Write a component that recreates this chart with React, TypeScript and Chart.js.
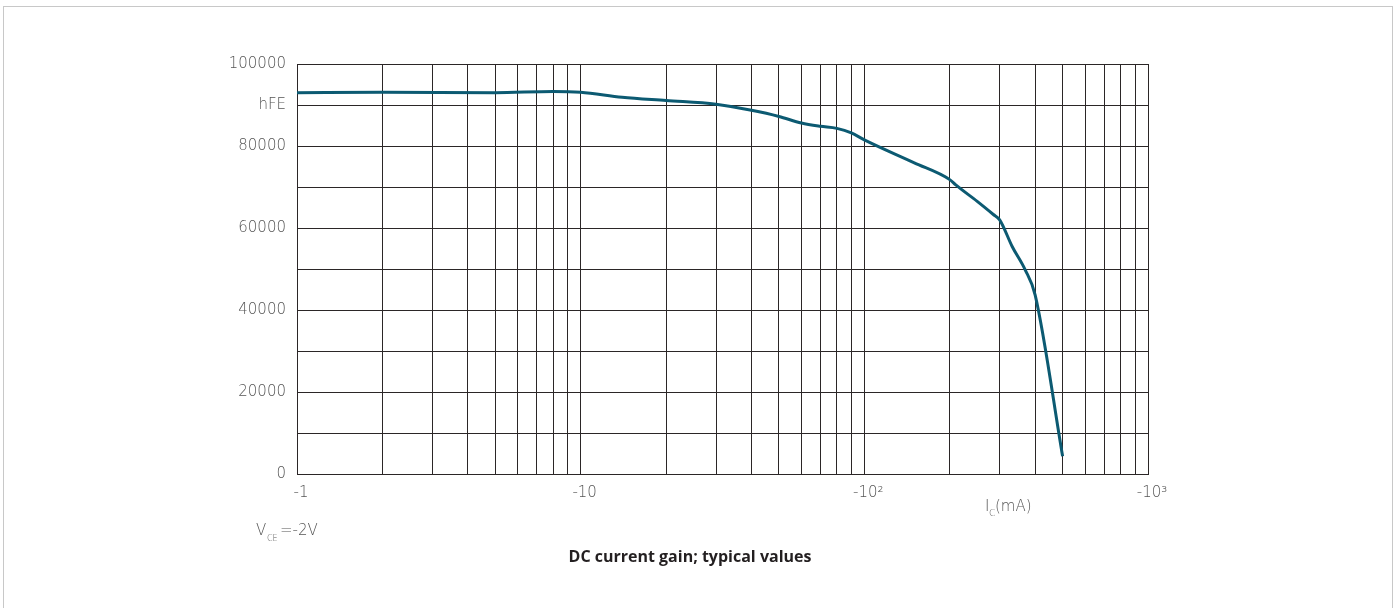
import React, { useEffect, useRef } from "react";
import { Chart, registerables } from "chart.js";

Chart.register(...registerables);

const currentMA = [1, 2, 5, 8, 10, 14, 20, 30, 40, 50, 60, 70, 80, 90, 100, 150, 200, 210, 250, 285, 300, 332, 369, 400, 500];
const hFEValues = [93000, 93100, 93000, 93300, 93100, 91900, 91100, 90200, 88700, 87200, 85600, 84800, 84300, 83200, 81500, 75900, 71800, 70500, 66500, 63300, 62000, 55500, 49800, 43700, 4300];
const xTickValues = [1, 2, 3, 4, 5, 6, 7, 8, 9, 10, 20, 30, 40, 50, 60, 70, 80, 90, 100, 200, 300, 400, 500, 600, 700, 800, 900, 1000];
const xTickLabels: Record<number, string> = { 1: "-1", 10: "-10", 100: "-10²", 1000: "-10³" };
const yTickLabels: Record<number, string> = { 0: "0", 20000: "20000", 40000: "40000", 60000: "60000", 80000: "80000", 90000: "hFE", 100000: "100000" };

const FONT = "'DejaVu Sans', 'Open Sans', sans-serif";
const TITLE_FONT = "'Open Sans', 'Noto Sans', sans-serif";
const GRID = "#2b2627";
const TEXT = "#555555";

const annotations = {
  id: "annotations",
  afterDraw(chart: any) {
    const ctx = chart.ctx;
    ctx.save();
    ctx.fillStyle = TEXT;
    ctx.textBaseline = "alphabetic";
    ctx.textAlign = "left";
    // I_C(mA)
    ctx.font = `200 15px ${FONT}`;
    ctx.fillText("I", 985, 511);
    ctx.font = `200 9px ${FONT}`;
    ctx.fillText("C", 989, 516);
    ctx.font = `200 15px ${FONT}`;
    ctx.fillText("(mA)", 995, 511);
    // V_CE=-2V
    ctx.font = `200 15px ${FONT}`;
    ctx.fillText("V", 256, 535);
    ctx.font = `200 8px ${FONT}`;
    ctx.fillText("CE", 267, 541);
    ctx.font = `200 15px ${FONT}`;
    ctx.fillText("=-2V", 280, 535);
    // title
    ctx.fillStyle = "#231f20";
    ctx.font = `bold 16px ${TITLE_FONT}`;
    ctx.textAlign = "center";
    ctx.fillText("DC current gain; typical values", 690, 562);
    ctx.restore();
  },
};

export default function App() {
  const ref = useRef<HTMLCanvasElement | null>(null);
  useEffect(() => {
    if (!ref.current) return;
    const chart = new Chart(ref.current, {
      type: "line",
      data: {
        datasets: [
          {
            data: currentMA.map((x, i) => ({ x, y: hFEValues[i] })),
            borderColor: "#0c5a72",
            borderWidth: 3,
            pointRadius: 0,
            cubicInterpolationMode: "monotone",
            fill: false,
          },
        ],
      },
      options: {
        animation: false,
        responsive: false,
        maintainAspectRatio: false,
        layout: { padding: { left: 0, top: 64, right: 252, bottom: 0 } },
        plugins: { legend: { display: false }, tooltip: { enabled: false }, title: { display: false } },
        scales: {
          x: {
            type: "logarithmic",
            min: 1,
            max: 1000,
            afterBuildTicks: (scale: any) => {
              scale.ticks = xTickValues.map((v) => ({ value: v }));
            },
            afterFit: (scale: any) => {
              scale.height = 134;
            },
            grid: { color: GRID, lineWidth: 1, drawTicks: false },
            border: { color: GRID, width: 1 },
            ticks: {
              autoSkip: false,
              maxRotation: 0,
              padding: 10,
              labelOffset: 4,
              color: TEXT,
              font: { family: FONT, size: 15, weight: "200" },
              callback: (v: any) => xTickLabels[Number(v)] ?? "",
            },
          },
          y: {
            type: "linear",
            min: 0,
            max: 100000,
            afterFit: (scale: any) => {
              scale.width = 297;
            },
            grid: { color: GRID, lineWidth: 1, drawTicks: false },
            border: { color: GRID, width: 1 },
            ticks: {
              stepSize: 10000,
              autoSkip: false,
              padding: 11,
              color: TEXT,
              font: { family: FONT, size: 15, weight: "200" },
              callback: (v: any) => yTickLabels[Number(v)] ?? "",
            },
          },
        },
      },
      plugins: [annotations],
    } as any);
    return () => chart.destroy();
  }, []);

  return (
    <div style={{ position: "fixed", left: 0, top: 0, width: 1400, height: 608, background: "#fff", overflow: "hidden" }}>
      <div style={{ position: "absolute", left: 3, top: 6, width: 1388, height: 620, border: "1px solid #c8c8c8" }} />
      <canvas ref={ref} width={1400} height={608} style={{ position: "absolute", left: 0, top: 0 }} />
    </div>
  );
}
